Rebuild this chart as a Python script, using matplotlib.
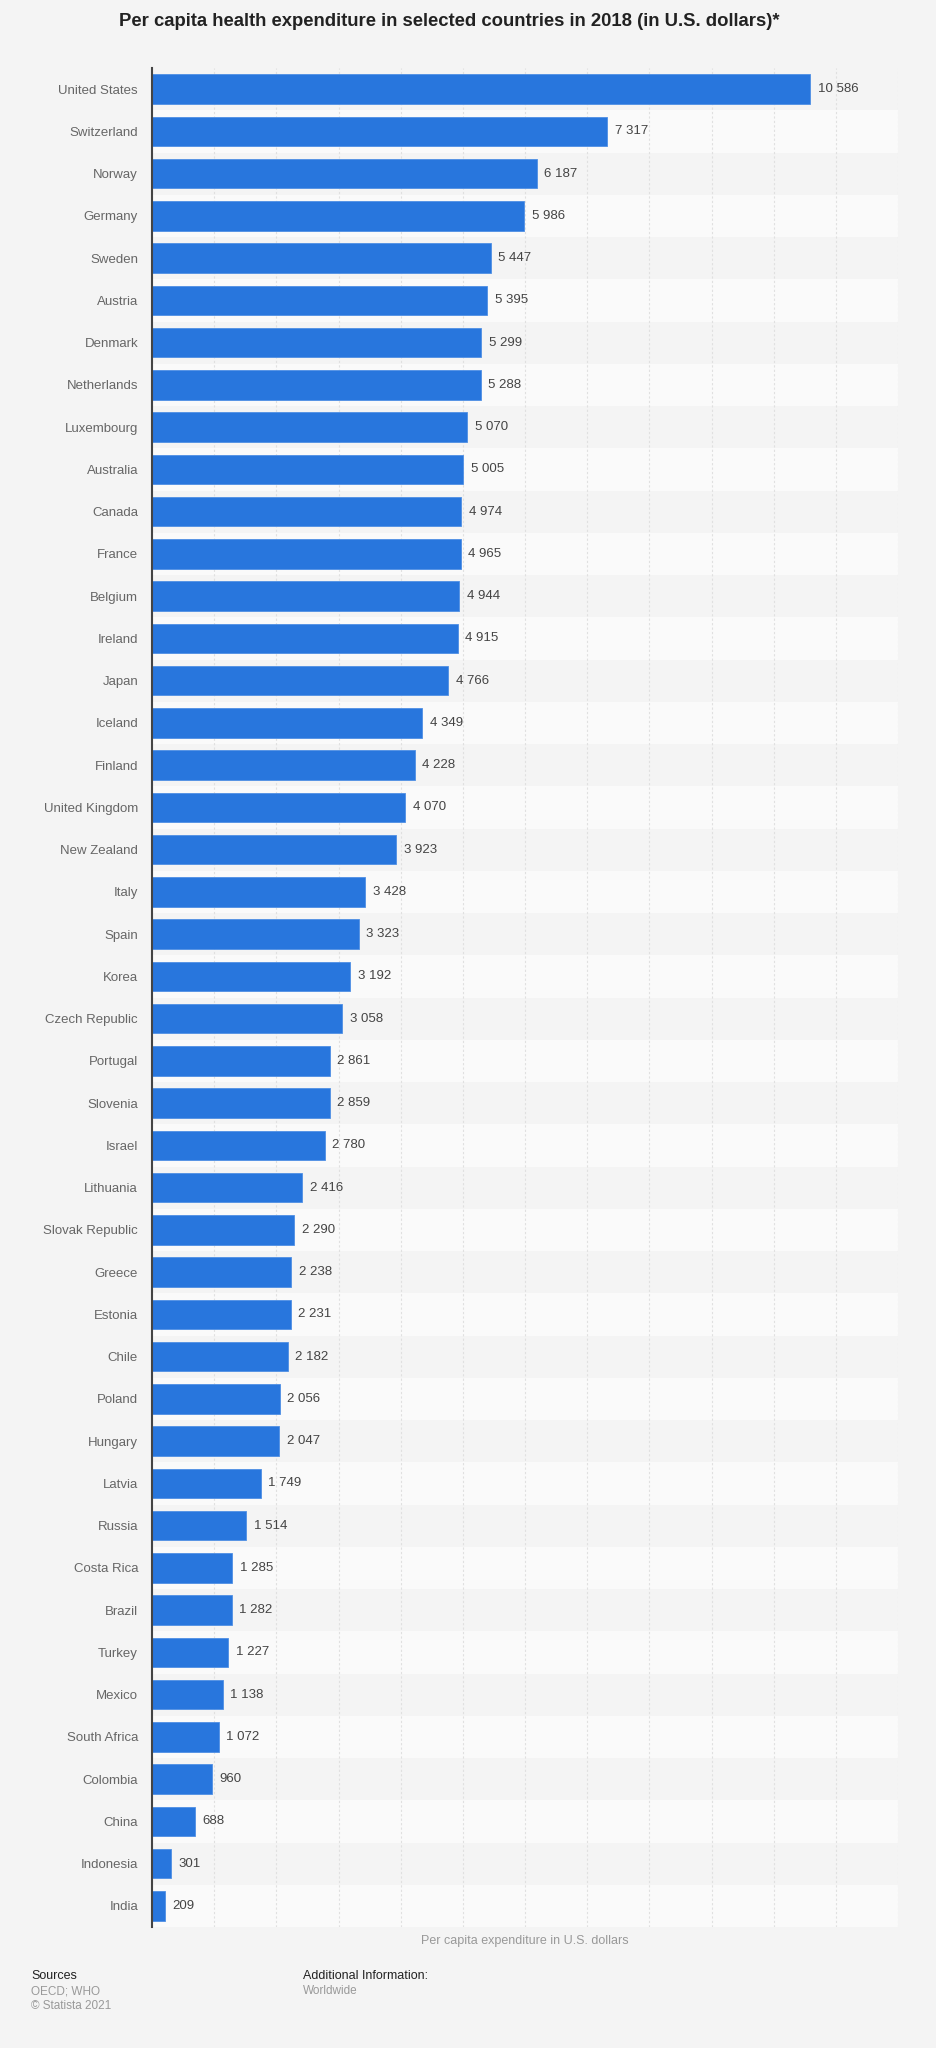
import matplotlib
matplotlib.use("Agg")
import matplotlib.pyplot as plt
from matplotlib.ticker import MultipleLocator

countries = ["United States", "Switzerland", "Norway", "Germany", "Sweden", "Austria",
             "Denmark", "Netherlands", "Luxembourg", "Australia", "Canada", "France",
             "Belgium", "Ireland", "Japan", "Iceland", "Finland", "United Kingdom",
             "New Zealand", "Italy", "Spain", "Korea", "Czech Republic", "Portugal",
             "Slovenia", "Israel", "Lithuania", "Slovak Republic", "Greece", "Estonia",
             "Chile", "Poland", "Hungary", "Latvia", "Russia", "Costa Rica", "Brazil",
             "Turkey", "Mexico", "South Africa", "Colombia", "China", "Indonesia", "India"]
values = [10586, 7317, 6187, 5986, 5447, 5395, 5299, 5288, 5070, 5005, 4974, 4965,
          4944, 4915, 4766, 4349, 4228, 4070, 3923, 3428, 3323, 3192, 3058, 2861,
          2859, 2780, 2416, 2290, 2238, 2231, 2182, 2056, 2047, 1749, 1514, 1285,
          1282, 1227, 1138, 1072, 960, 688, 301, 209]

title = "Per capita health expenditure in selected countries in 2018 (in U.S. dollars)*"
xlabel = "Per capita expenditure in U.S. dollars"

plt.rcParams['font.family'] = ['Liberation Sans', 'DejaVu Sans']

BG = "#f4f4f4"
STRIPE = "#fafafa"
BAR = "#2876dd"

fig = plt.figure(figsize=(9.36, 20.48), dpi=100, facecolor=BG)
ax = fig.add_axes([152/936, 1 - 1927/2048, (898-152)/936, (1927-68)/2048])
ax.set_facecolor(BG)

n = len(countries)
ypos = list(range(n))
for i in ypos:
    if i % 2 == 1:
        ax.axhspan(i - 0.5, i + 0.5, color=STRIPE, zorder=0, lw=0)

ax.barh(ypos, values, height=0.7, color=BAR, edgecolor="#4f8fe4", linewidth=0.6, zorder=3)
for y, v in zip(ypos, values):
    s = f"{v:,}".replace(",", " ")
    ax.annotate(s, xy=(v, y), xytext=(5.5, 0), textcoords="offset points",
                va="center", ha="left", fontsize=9.5, color="#444444", zorder=4)

ax.set_ylim(n - 0.5, -0.5)
ax.set_xlim(0, 12000)
ax.set_yticks(ypos)
ax.set_yticklabels(countries, fontsize=9.5, color="#666666")
ax.xaxis.set_major_locator(MultipleLocator(1000))
ax.set_xticklabels([])
ax.tick_params(axis="x", length=0)
ax.tick_params(axis="y", length=0, pad=10)
ax.grid(axis="x", color="#e0e0e0", linestyle=(0, (2, 2)), linewidth=0.8, zorder=1)
for side in ["top", "right", "bottom"]:
    ax.spines[side].set_visible(False)
ax.spines["left"].set_color("#444444")
ax.spines["left"].set_linewidth(1.5)
ax.spines["left"].set_zorder(5)

fig.text(449/936, 1 - 22/2048, title, ha="center", va="center", fontsize=13.3,
         fontweight="bold", color="#222222")
fig.text(525/936, 1 - 1941/2048, xlabel, ha="center", va="center", fontsize=9,
         color="#999999")

fig.text(31/936, 1 - 1976/2048, "Sources", ha="left", va="center", fontsize=9, color="#222222")
fig.text(31/936, 1 - 1991/2048, "OECD; WHO", ha="left", va="center", fontsize=8.5, color="#999999")
fig.text(31/936, 1 - 2006/2048, "\u00a9 Statista 2021", ha="left", va="center", fontsize=8.5, color="#999999")
fig.text(303/936, 1 - 1976/2048, "Additional Information:", ha="left", va="center", fontsize=9, color="#222222")
fig.text(303/936, 1 - 1991/2048, "Worldwide", ha="left", va="center", fontsize=8.5, color="#999999")

fig.savefig("out.png", dpi=100, facecolor=BG)
